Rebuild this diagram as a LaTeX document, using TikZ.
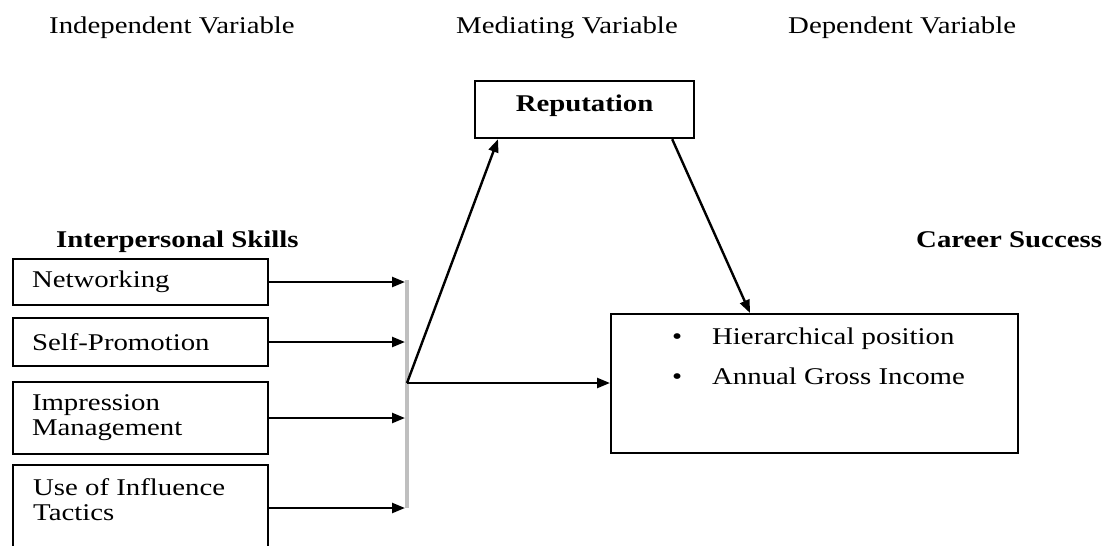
\documentclass[tikz,border=0pt]{standalone}
\usepackage{fontspec}
\setmainfont{Liberation Serif}[FakeStretch=1.2]
\usetikzlibrary{arrows.meta}

\begin{document}
\begin{tikzpicture}[->, >={Triangle[length=13pt,width=10pt]}, x=1pt, y=-1pt, line width=2.4pt]

    \tikzstyle{txt}=[inner sep=0pt, align=left, font=\fontsize{24}{25}\selectfont]
    \tikzstyle{head}=[txt, anchor=base west]
    \tikzstyle{box}=[draw, -, line width=2.2pt, inner xsep=19pt, inner ysep=0pt, text width=217pt,
                     minimum width=255pt, align=left, font=\fontsize{24}{25}\selectfont]

    \useasboundingbox (0,0) rectangle (1109,546);
    \clip (0,0) rectangle (1109,546);

    % column titles
    \node[head] (IV) at (48,33) {Independent Variable};
    \node[head] (MV) at (455,34) {Mediating Variable};
    \node[head] (DV) at (787,34) {Dependent Variable};
    \node[head, font=\fontsize{24}{25}\selectfont\bfseries] (IS) at (55,247) {Interpersonal Skills};
    \node[head, font=\fontsize{24}{25}\selectfont\bfseries] (CS) at (915,247) {Career Success};

    % independent variables
    \node[box, minimum height=46pt] (N) at (140.5,282) {Networking};
    \node[box, minimum height=48pt] (S) [below of=N, node distance=60pt] {Self-Promotion};
    \node[box, minimum height=72pt] (I) [below of=S, node distance=76pt] {Impression\\Management};
    \node[box, minimum height=100pt] (U) [below of=I, node distance=97pt] {};
    \node[txt, anchor=north west] (UT) at (32,477) {Use of Influence\\Tactics};

    % mediating and dependent variables
    \node[box, minimum width=219pt, minimum height=57pt, text width=181pt, align=center,
          text depth=13pt, anchor=north west, font=\fontsize{24}{25}\selectfont\bfseries] (R) at (474,80) {Reputation};
    \node[box, minimum width=407pt, minimum height=139pt, text width=369pt, anchor=north west] (C) at (610,313) {};
    \node[txt, anchor=north west] (CL) at (671,327)
        {\makebox[40pt][l]{\textbullet}Hierarchical position\\[15pt]\makebox[40pt][l]{\textbullet}Annual Gross Income};

    % collecting bar
    \coordinate (T) at (407,280);
    \coordinate (B) at (407,508);
    \coordinate (H) at (407,383);
    \draw[-, gray!50, line width=4.5pt] (T) -- (B);

    \path[shorten >=2pt] (N.east) edge (N.east -| T)
          (S.east) edge (S.east -| T)
          (I.east) edge (I.east -| T)
          (U.east |- B) edge (B);
    \path (H) edge (H -| C.west)
              edge ([xshift=24pt]R.south west)
          ([xshift=-23pt]R.south east) edge ([xshift=140pt]C.north west);
\end{tikzpicture}
\end{document}
